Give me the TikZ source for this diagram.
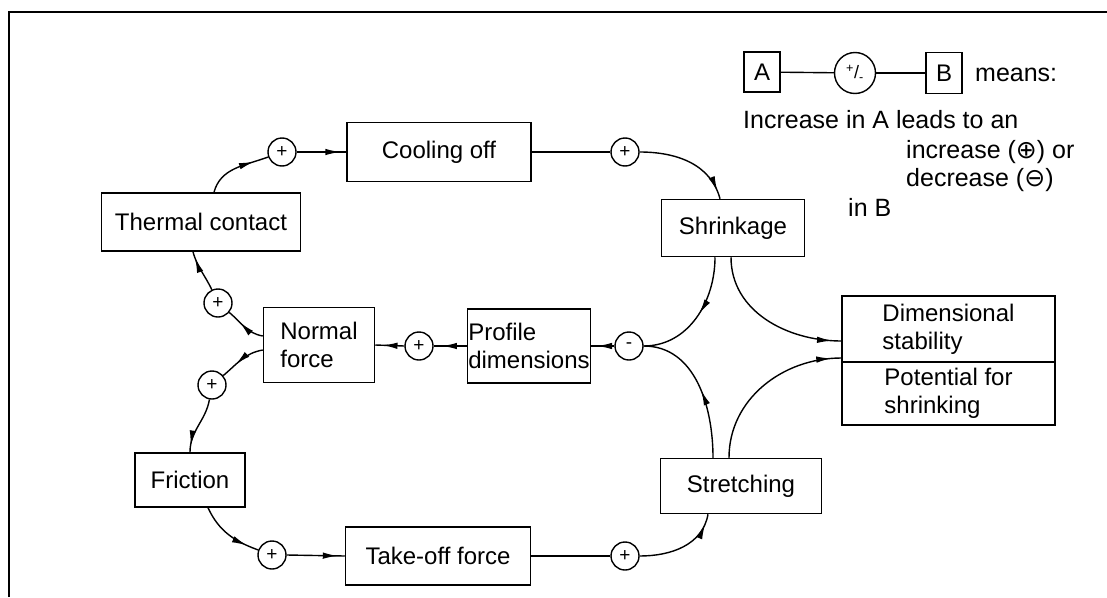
\documentclass[tikz,border=0pt]{standalone}
\usepackage{fontspec}
\setmainfont{Liberation Sans}
\newfontfamily\signfont{DejaVu Sans}
\usetikzlibrary{arrows.meta,decorations.markings}

\tikzset{
	block/.style={draw, line width=1.5pt, inner sep=0pt, align=left, font=\fontsize{24}{28}\selectfont},
	sign/.style={draw, circle, line width=1.4pt, minimum size=28pt, inner sep=0pt, font=\fontsize{19}{19}\selectfont},
	link/.style={line width=1.4pt},
	flow/.style={link, postaction={decorate}, decoration={markings, mark=at position #1 with {\arrow{Latex[length=15pt,width=6.5pt]}}}},
	flow/.default=0.8,
	legend/.style={anchor=west, inner sep=0pt, font=\fontsize{25}{28}\selectfont},
}

\begin{document}
\begin{tikzpicture}[x=1pt, y=1pt]
	\useasboundingbox (0,0) rectangle (1107,-597);
	% рамка
	\draw [line width=2pt] (9,-597) -- (9,-12) -- (1107,-12);

	% блоки
	\node [block, minimum width=199pt, minimum height=58pt] (thermal) at (201,-222) {Thermal contact};
	\node [block, minimum width=184pt, minimum height=59pt] (cooling) at (439,-152) {Cooling off};
	\node [block, minimum width=143pt, minimum height=57pt] (shrinkage) at (733,-228) {Shrinkage};
	\node [block, minimum width=111pt, minimum height=75pt] (normal) at (319,-345) {Normal\\force};
	\node [block, minimum width=123pt, minimum height=74pt] (profile) at (529,-346) {Profile\\dimensions};
	\node [block, minimum width=213pt, minimum height=66pt] (dimstab) at (948.5,-329) {Dimensional\\stability};
	\node [block, minimum width=213pt, minimum height=63pt] (potshr) at (948.5,-393.5) {Potential for\\shrinking};
	\node [block, minimum width=110pt, minimum height=54pt] (friction) at (190,-480) {Friction};
	\node [block, minimum width=185pt, minimum height=58pt] (takeoff) at (438,-556) {Take-off force};
	\node [block, minimum width=161pt, minimum height=55pt] (stretching) at (741,-486) {Stretching};

	% знаки
	\node [sign] (c1) at (282,-152) {+};
	\node [sign] (c2) at (625,-152) {+};
	\node [sign] (c3) at (218,-303) {+};
	\node [sign] (c4) at (212,-385) {+};
	\node [sign] (c5) at (272,-555) {+};
	\node [sign] (c6) at (625,-556) {+};
	\node [sign] (cp) at (419,-346) {+};
	\node [sign] (cm) at (629,-346) {-};

	% верхний контур
	\draw [flow=0.78] ([xshift=13pt]thermal.north) to[out=75,in=200] (c1.200);
	\draw [flow=0.88] (c1.east) -- (cooling.west);
	\draw [link] (cooling.east) -- (c2.west);
	\draw [flow=0.92] (c2.east) to[out=0,in=105] ([xshift=-13pt]shrinkage.north);

	% середина
	\draw [flow=0.47] ([xshift=-18pt]shrinkage.south) to[out=-90,in=0] (cm.east);
	\draw [flow=0.47] ([xshift=-28pt]stretching.north) to[out=90,in=0] (cm.east);
	\draw [flow=0.94] ([xshift=-2pt]shrinkage.south) to[out=-90,in=180] ([yshift=-12pt]dimstab.west);
	\draw [flow=0.94] ([xshift=-12pt]stretching.north) to[out=90,in=180] ([yshift=-29pt]dimstab.west);
	\draw [flow=0.75] (cm.west) -- (profile.east);
	\draw [flow=0.75] (profile.west) -- (cp.east);
	\draw [flow=0.75] (cp.west) -- (normal.east);

	% левый контур
	\draw [flow=0.65] ([yshift=9pt]normal.west) to[out=170,in=-40] (c3.-40);
	\draw [flow=0.85] (c3.115) to[out=115,in=-75] ([xshift=-8pt]thermal.south);
	\draw [flow=0.65] ([yshift=-5pt]normal.west) to[out=190,in=40] (c4.40);
	\draw [flow=0.88] (c4.-100) to[out=-100,in=90] (friction.north);

	% нижний контур
	\draw [flow=0.82] ([xshift=18pt]friction.south) to[out=-65,in=160] (c5.160);
	\draw [flow=0.88] (c5.east) -- (takeoff.west);
	\draw [link] (takeoff.east) -- (c6.west);
	\draw [flow=0.88] (c6.east) to[out=0,in=-100] ([xshift=-33pt]stretching.south);

	% пояснение
	\node [block, minimum width=36pt, minimum height=40pt] (legA) at (762,-72) {A};
	\node [sign, minimum size=41pt, font=\fontsize{18}{18}\selectfont] (legpm) at (855,-73) {\textsuperscript{+}/\textsubscript{-}};
	\node [block, minimum width=36pt, minimum height=41pt] (legB) at (944,-73) {B};
	\node [legend] (means) at (975,-75) {means:};
	\draw [link] (legA) -- (legpm);
	\draw [link] (legpm) -- (legB);
	\node [legend] (expl1) at (743,-120) {Increase in A leads to an};
	\node [legend] (expl2) at (906,-152) {increase ({\signfont ⊕}) or};
	\node [legend] (expl3) at (906,-180) {decrease ({\signfont ⊖})};
	\node [legend] (expl4) at (848,-207) {in B};
\end{tikzpicture}
\end{document}
